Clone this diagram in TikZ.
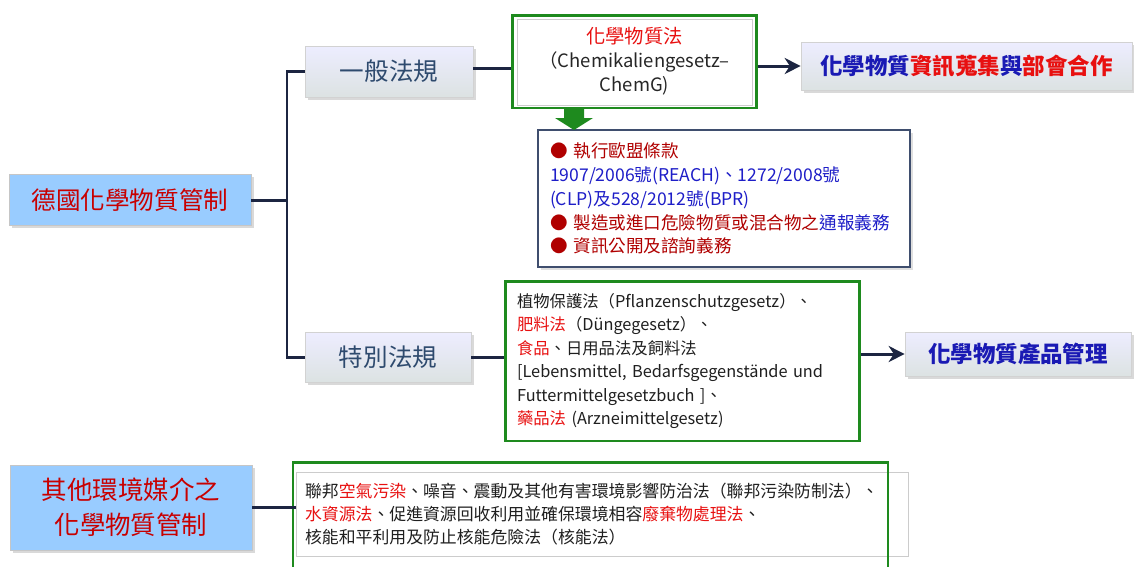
\documentclass[tikz,border=0pt]{standalone}
\usepackage{fontspec}
\setmainfont{Noto Sans CJK TC}
\usetikzlibrary{arrows.meta,shadows}
\definecolor{navyline}{HTML}{1C2541}
\definecolor{skyfill}{HTML}{99CCFF}
\definecolor{rootred}{HTML}{C80000}
\definecolor{lawtext}{HTML}{2E4A6E}
\definecolor{goalblue}{HTML}{1A1AB4}
\definecolor{brightred}{HTML}{E81010}
\definecolor{darkred}{HTML}{B00000}
\definecolor{listblue}{HTML}{1E1EC8}
\definecolor{lawgreen}{HTML}{1E8A1E}
\definecolor{listframe}{HTML}{3F4E6E}
\tikzstyle{rootbox}=[draw=gray!45, fill=skyfill, text=rootred, align=center, inner sep=0pt, font=\fontsize{14}{18}\selectfont, drop shadow={opacity=0.3, shadow xshift=1.5pt, shadow yshift=-1.5pt}]
\tikzstyle{lawbox}=[draw=gray!35, top color=white!93!blue, bottom color=cyan!10!gray!25, text=lawtext, inner sep=0pt, font=\fontsize{14}{16}\selectfont, drop shadow={opacity=0.3, shadow xshift=1.5pt, shadow yshift=-1.5pt}]
\tikzstyle{goalbox}=[lawbox, text=goalblue, font=\bfseries\fontsize{12.8}{15}\selectfont]
\tikzstyle{greenbox}=[draw=lawgreen, line width=1.7pt, fill=white, inner sep=0pt]
\tikzstyle{listbox}=[draw=listframe, line width=1.1pt, fill=white, inner sep=0pt, drop shadow={opacity=0.25, shadow xshift=1.5pt, shadow yshift=-1.5pt}]
\tikzstyle{trunk}=[draw=navyline, line width=1.7pt]
\tikzstyle{arrow}=[trunk, >={Stealth[length=3.2mm, width=3.2mm]}]

\begin{document}
\begin{tikzpicture}[x=0.02cm, y=-0.02cm]
	\useasboundingbox (0,0) rectangle (1134,566);
	\begin{scope}
		\node (ctrl) at (130, 200)[rootbox, minimum width=4.84cm, minimum height=1.02cm] {德國化學物質管制};
		\node (general) at (389, 71.5)[lawbox, minimum width=3.36cm, minimum height=1.02cm] {一般法規};
		\node (special) at (388, 357.5)[lawbox, minimum width=3.32cm, minimum height=1.0cm] {特別法規};
		\node (chemlaw) at (634.5, 61.5)[greenbox, minimum width=4.9cm, minimum height=1.86cm, align=center, text=black!85, font=\fontsize{10.5}{13.6}\selectfont] {{\color{brightred}\fontsize{11}{13.6}\selectfont 化學物質法}\\（Chemikaliengesetz–\\ChemG)};
		\node (info) at (966.5, 66)[goalbox, minimum width=6.62cm, minimum height=0.96cm] {化學物質{\color{brightred}資訊蒐集}與{\color{brightred}部會合作}};
		\node (eulist) at (724, 198.5)[listbox, minimum width=7.44cm, minimum height=2.74cm, text width=6.96cm, align=left, text=darkred, font=\fontsize{10}{13.6}\selectfont] {● 執行歐盟條款\\{\color{listblue}1907/2006號(REACH)、1272/2008號}\\{\color{listblue}(CLP)及528/2012號(BPR)}\\● 製造或進口危險物質或混合物之{\color{listblue}通報義務}\\● 資訊公開及諮詢義務};
		\node (speclaw) at (682.5, 361)[greenbox, minimum width=7.1cm, minimum height=3.2cm, text width=6.62cm, align=left, text=black!88, font=\fontsize{9.3}{13.3}\selectfont] {植物保護法（Pflanzenschutzgesetz）、\\{\color{brightred}肥料法}（Düngegesetz）、\\{\color{brightred}食品}、日用品法及飼料法\\{[}Lebensmittel, Bedarfsgegenstände und\\Futtermittelgesetzbuch ]、\\{\color{brightred}藥品法} (Arzneimittelgesetz)};
		\node (product) at (1018, 354)[goalbox, minimum width=4.52cm, minimum height=0.88cm] {化學物質產品管理};
		\node (other) at (131, 507.5)[rootbox, minimum width=4.84cm, minimum height=1.7cm, font=\fontsize{14.5}{20}\selectfont] {其他環境媒介之\\化學物質管制};
		\node (envlaw) at (602, 514)[draw=gray!40, fill=white, inner sep=0pt, minimum width=12.24cm, minimum height=1.68cm, text width=11.88cm, align=left, text=black!88, font=\fontsize{9.6}{13.3}\selectfont] {聯邦{\color{brightred}空氣污染}、噪音、震動及其他有害環境影響防治法（聯邦污染防制法）、\\{\color{brightred}水資源法}、促進資源回收利用並確保環境相容{\color{brightred}廢棄物處理法}、\\核能和平利用及防止核能危險法（核能法）};
		\coordinate (fork) at (287, 200);
		\coordinate (drop) at (574, 108);
		\coordinate (genlink) at (473, 68);
	\end{scope}
	% frames and the green drop arrow
	\draw[gray!40] (517, 19) rectangle (752, 105);
	\draw[lawgreen, line width=1.7pt] (293, 580) -- (293, 462) -- (888, 462) -- (888, 580);
	\fill[lawgreen] (drop) ++(-10, 0) -- ++(20, 0) -- ++(0, 10) -- ++(9, 0) -- ++(-19, 12) -- ++(-19, -12) -- ++(9, 0) -- cycle;
	\begin{scope}
		\path [trunk] (general.west) -| (fork) |- (special.west);
		\path [trunk] (ctrl.east) -- (fork);
		\path [trunk] (genlink) -- (genlink -| chemlaw.west);
		\path [arrow, ->] (info.west -| chemlaw.east) -- (info.west);
		\path [trunk] (special.east) -- (special.east -| speclaw.west);
		\path [arrow, ->] (product.west -| speclaw.east) -- (product.west);
		\path [trunk] (other.east) -- (other.east -| envlaw.west);
	\end{scope}
\end{tikzpicture}
\end{document}
